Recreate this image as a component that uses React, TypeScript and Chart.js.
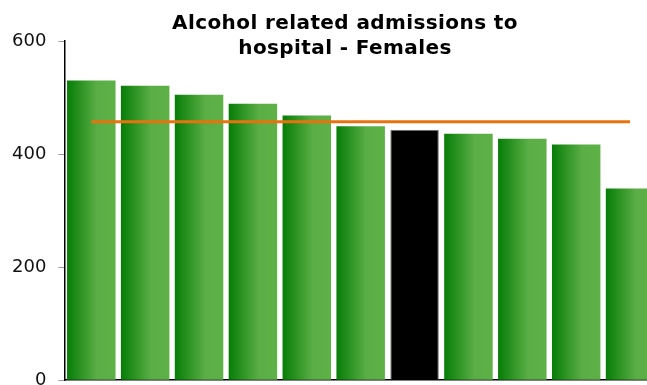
import React, { useEffect, useRef } from "react";
import { Chart, registerables } from "chart.js";

Chart.register(...registerables);

const categories = ["Area 1", "Area 2", "Area 3", "Area 4", "Area 5", "Area 6", "Local area", "Area 8", "Area 9", "Area 10", "Area 11"];
const admissions = [530, 521, 505, 489, 468, 449, 443, 436, 427, 417, 339];
const averageLine = [457, 457, 457, 457, 457, 457, 457, 457, 457, 457, 457];
const highlightIndex = 6;
const yTicks = [0, 200, 400, 600];
const titleLines = ["Alcohol related admissions to", "hospital - Females"];

const BAR_PCT = 0.9;

export default function App() {
  const ref = useRef<HTMLCanvasElement | null>(null);

  useEffect(() => {
    const canvas = ref.current;
    if (!canvas) return;
    const chart = new Chart(canvas, {
      type: "bar",
      data: {
        labels: categories,
        datasets: [
          {
            type: "line",
            data: averageLine,
            borderColor: "#e8730e",
            borderWidth: 3,
            pointRadius: 0,
            fill: false,
            order: 0,
          } as any,
          {
            type: "bar",
            data: admissions,
            order: 1,
            barPercentage: BAR_PCT,
            categoryPercentage: 1,
            borderWidth: (c: any) => (c.dataIndex === highlightIndex ? 1 : 0),
            borderColor: "#777777",
            backgroundColor: (c: any) => {
              if (c.dataIndex === highlightIndex) return "#000000";
              const ch = c.chart;
              if (!ch.chartArea || c.type !== "data") return "#3a9a2a";
              const xs = ch.scales.x;
              const center = xs.getPixelForValue(c.dataIndex);
              const w = (xs.width / categories.length) * BAR_PCT;
              const g = ch.ctx.createLinearGradient(center - w / 2, 0, center + w / 2, 0);
              g.addColorStop(0, "#067d06");
              g.addColorStop(0.62, "#5aae45");
              g.addColorStop(1, "#5db147");
              return g;
            },
          } as any,
        ],
      },
      options: {
        animation: false,
        responsive: false,
        maintainAspectRatio: false,
        layout: { padding: { top: 41, left: 0, right: 0, bottom: 0 } },
        plugins: {
          legend: { display: false },
          title: { display: false },
          tooltip: { enabled: false },
        },
        scales: {
          x: {
            grid: { display: false },
            ticks: { display: false },
            border: { display: true, color: "#000000", width: 1.5 },
          },
          y: {
            min: 0,
            max: 600,
            afterBuildTicks: (axis: any) => {
              axis.ticks = yTicks.map((v) => ({ value: v }));
            },
            grid: {
              drawOnChartArea: false,
              drawTicks: true,
              tickLength: 6,
              tickColor: "#999999",
            },
            border: { display: true, color: "#000000", width: 1.5 },
            ticks: {
              color: "#111111",
              padding: 12,
              font: { family: "'DejaVu Sans', Verdana, sans-serif", size: 18 },
            },
          },
        },
      },
    });
    return () => chart.destroy();
  }, []);

  return (
    <div
      style={{
        position: "fixed",
        left: 0,
        top: 0,
        width: 647,
        height: 385,
        overflow: "hidden",
        background: "#ffffff",
      }}
    >
      <canvas ref={ref} width={657} height={403} style={{ position: "absolute", left: 0, top: 0, width: 657, height: 403 }} />
      <div
        style={{
          position: "absolute",
          left: 145,
          top: 10,
          width: 400,
          textAlign: "center",
          fontFamily: "'DejaVu Sans', Verdana, sans-serif",
          fontWeight: "bold",
          fontSize: 20,
          letterSpacing: "0.4px",
          lineHeight: "25px",
          color: "#000000",
        }}
      >
        {titleLines.map((t) => (
          <div key={t}>{t}</div>
        ))}
      </div>
    </div>
  );
}
